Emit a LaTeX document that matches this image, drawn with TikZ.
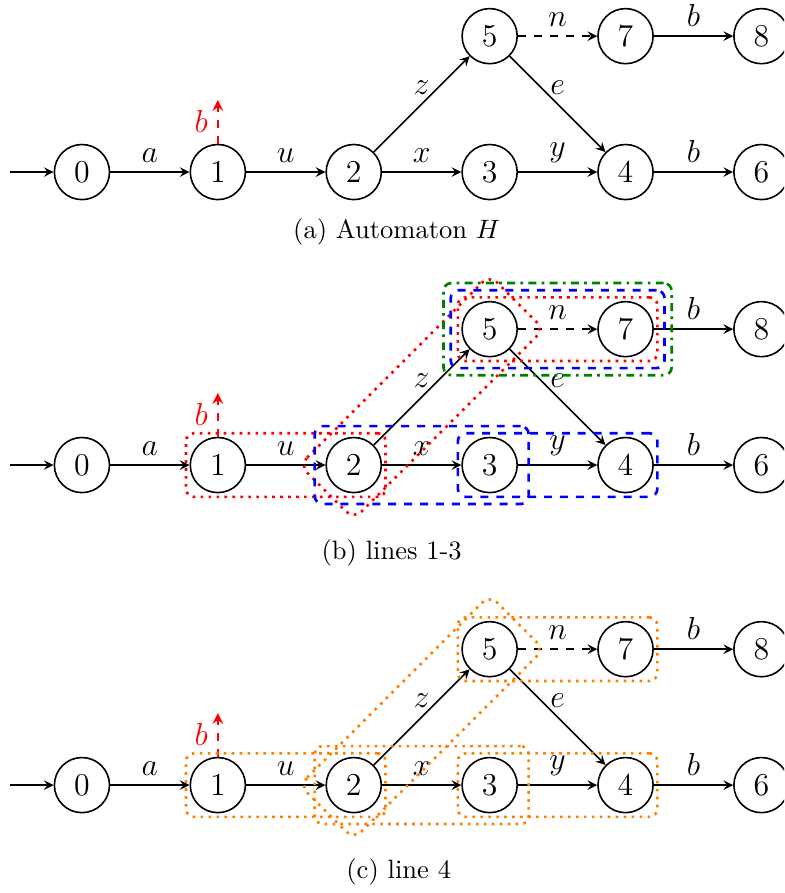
\documentclass[tikz,border=0pt]{standalone}
\usetikzlibrary{fit,calc}

\begin{document}
\begin{tikzpicture}[x=1.8cm, y=1.8cm, >=stealth, semithick,
  state/.style={draw,circle,minimum size=0.73cm,inner sep=0pt,font=\large},
  lbl/.style={font=\large},
  tight/.style={rounded corners=3pt,inner sep=1.3pt},
  wide/.style={rounded corners=3pt,inner sep=4pt},
  widest/.style={rounded corners=3pt,inner sep=6.7pt},
  redhull/.style={draw=red,line width=1pt,dotted},
  bluehull/.style={draw=blue,line width=1pt,dashed},
  greenhull/.style={draw=green!50!black,line width=1pt,dashdotted},
  orangehull/.style={draw=orange,line width=1pt,dotted}]

\clip (-0.603,1.266) rectangle (5.166,-5.305);

% the automaton, once per sub-figure
\foreach \p/\yo in {a/0, b/-2.156, c/-4.511} {
  \node[state] (\p0) at (0,\yo) {0};
  \node[state] (\p1) at (1,\yo) {1};
  \node[state] (\p2) at (2,\yo) {2};
  \node[state] (\p3) at (3,\yo) {3};
  \node[state] (\p4) at (4,\yo) {4};
  \node[state] (\p6) at (5,\yo) {6};
  \node[state] (\p5) at (3,{\yo+1}) {5};
  \node[state] (\p7) at (4,{\yo+1}) {7};
  \node[state] (\p8) at (5,{\yo+1}) {8};
  \coordinate (\p-start) at (-0.53,\yo);
  \coordinate (\p-esc) at (1,{\yo+0.53});

  \draw[->] (\p-start) -- (\p0);
  \draw[->] (\p0) -- node[above,lbl]{$a$} (\p1);
  \draw[->] (\p1) -- node[above,lbl]{$u$} (\p2);
  \draw[->] (\p2) -- node[above,lbl]{$x$} (\p3);
  \draw[->] (\p2) -- node[above,lbl]{$z$} (\p5);
  \draw[->] (\p3) -- node[above,lbl]{$y$} (\p4);
  \draw[->] (\p5) -- node[above,lbl]{$e$} (\p4);
  \draw[->] (\p4) -- node[above,lbl]{$b$} (\p6);
  \draw[->,dashed] (\p5) -- node[above,lbl]{$n$} (\p7);
  \draw[->] (\p7) -- node[above,lbl]{$b$} (\p8);
  \draw[->,red,dashed,thick] (\p1) -- node[left,lbl]{$b$} (\p-esc);
}

\node (capa) at (2.316,-0.441) {(a) Automaton $H$};
\node (capb) at (2.279,-2.801) {(b) lines 1-3};
\node (capc) at (2.331,-5.147) {(c) line 4};

% lines 1-3
\node[fit=(b1)(b2),tight,redhull] (r12) {};
\node[fit=(b5)(b7),tight,redhull] (r57) {};
\draw[redhull,rounded corners=4pt]
  ($(b2)!20.4pt!135:(b5)$) -- ($(b5)!20.4pt!-135:(b2)$) --
  ($(b5)!20.4pt!135:(b2)$) -- ($(b2)!20.4pt!-135:(b5)$) -- cycle;
\node[fit=(b2)(b3),wide,bluehull] (bl23) {};
\node[fit=(b3)(b4),tight,bluehull] (bl34) {};
\node[fit=(b5)(b7),wide,bluehull] (bl57) {};
\node[fit=(b5)(b7),widest,greenhull] (g57) {};

% line 4
\node[fit=(c1)(c2),tight,orangehull] (o12) {};
\node[fit=(c2)(c3),wide,orangehull] (o23) {};
\node[fit=(c3)(c4),tight,orangehull] (o34) {};
\node[fit=(c5)(c7),tight,orangehull] (o57) {};
\draw[orangehull,rounded corners=4pt]
  ($(c2)!20.4pt!135:(c5)$) -- ($(c5)!20.4pt!-135:(c2)$) --
  ($(c5)!20.4pt!135:(c2)$) -- ($(c2)!20.4pt!-135:(c5)$) -- cycle;

\end{tikzpicture}
\end{document}
